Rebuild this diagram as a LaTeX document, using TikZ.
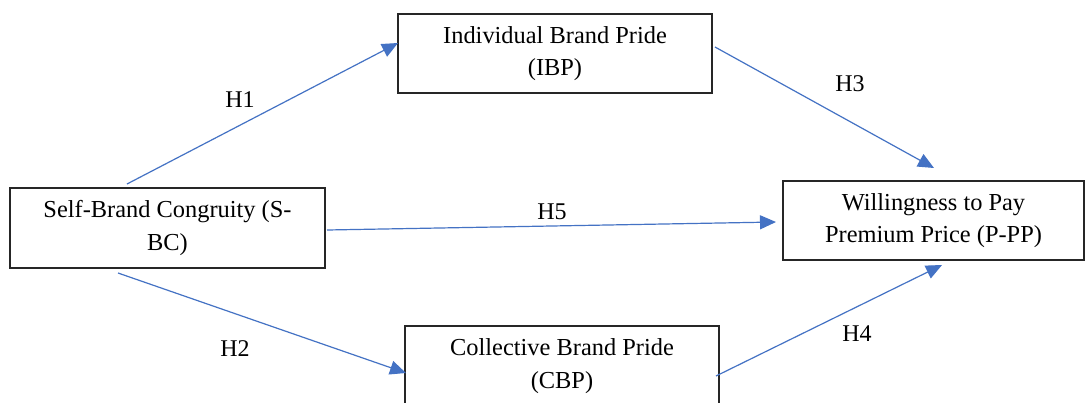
\documentclass[tikz,border=0pt]{standalone}
\usepackage{fontspec}
\setmainfont{Liberation Serif}
\usetikzlibrary{arrows.meta}
\definecolor{arrowblue}{HTML}{4472C4}
\begin{document}
\begin{tikzpicture}[x=0.5pt,y=-0.5pt,
  box/.style={draw=black!85,line width=0.7pt,rectangle,align=center,inner sep=0pt,
    font=\fontsize{12.2pt}{16.2pt}\selectfont},
  conn/.style={draw=arrowblue,line width=0.6pt,-{Triangle[length=8pt,width=7pt]}},
  hlab/.style={font=\fontsize{12pt}{14pt}\selectfont,inner sep=0pt}]
\useasboundingbox (0,0) rectangle (1086,402);
\fill[white] (0,0) rectangle (1086,402);
\node[box,minimum width=157.5pt,minimum height=40pt] (sbc) at (167.5,228) {Self-Brand Congruity (S-\\BC)};
\node[box,minimum width=157pt,minimum height=39.5pt] (ibp) at (555,53.5) {Individual Brand Pride\\(IBP)};
\node[box,minimum width=150.5pt,minimum height=39.5pt] (wpp) at (933.5,220.5) {Willingness to Pay\\Premium Price (P-PP)};
\node[box,minimum width=157pt,minimum height=40pt] (cbp) at (562,366) {Collective Brand Pride\\(CBP)};
\coordinate (h1s) at (127,184);
\coordinate (h1e) at (398,43);
\coordinate (h3s) at (715,47);
\coordinate (h3e) at (934,168);
\coordinate (h5s) at (327,230);
\coordinate (h5e) at (776,222);
\coordinate (h2s) at (118,273);
\coordinate (h2e) at (406,373);
\coordinate (h4s) at (716,376);
\coordinate (h4e) at (942,265);
\draw[conn] (h1s) -- (h1e);
\draw[conn] (h3s) -- (h3e);
\draw[conn] (h5s) -- (h5e);
\draw[conn] (h2s) -- (h2e);
\draw[conn] (h4s) -- (h4e);
\node[hlab] (l1) at (240,100) {H1};
\node[hlab] (l3) at (850,84) {H3};
\node[hlab] (l5) at (552,212) {H5};
\node[hlab] (l2) at (235,349) {H2};
\node[hlab] (l4) at (857,334) {H4};
\end{tikzpicture}
\end{document}
